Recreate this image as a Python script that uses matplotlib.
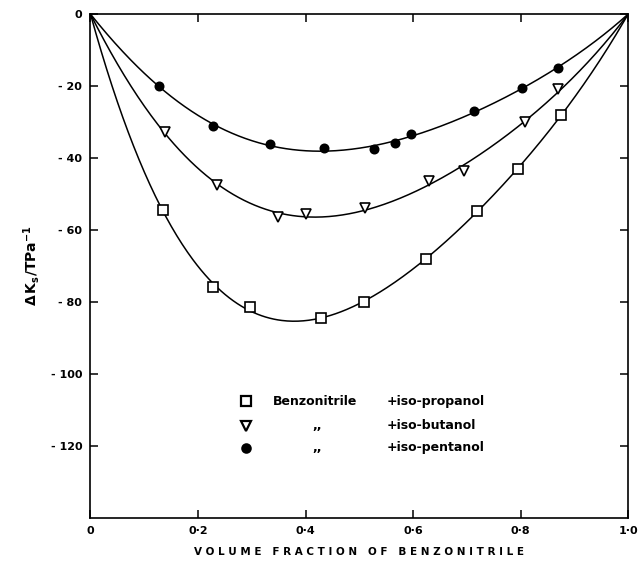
import numpy as np
import matplotlib
matplotlib.use("Agg")
import matplotlib.pyplot as plt

# volume fraction of benzonitrile and excess compressibility (TPa^-1)
x_prop = [0.135, 0.227, 0.296, 0.428, 0.509, 0.624, 0.719, 0.795, 0.875]
y_prop = [-54.3, -75.9, -81.5, -84.3, -80.1, -67.9, -54.7, -43.1, -28.1]

x_but = [0.139, 0.236, 0.348, 0.401, 0.511, 0.630, 0.695, 0.808, 0.870]
y_but = [-32.7, -47.5, -56.3, -55.6, -54.0, -46.3, -43.5, -29.9, -20.9]

x_pent = [0.128, 0.227, 0.334, 0.435, 0.528, 0.567, 0.596, 0.713, 0.802, 0.869]
y_pent = [-20.0, -31.0, -36.2, -37.3, -37.6, -35.7, -33.4, -26.9, -20.6, -15.1]

x_ticks = [0, 0.2, 0.4, 0.6, 0.8, 1.0]
x_labels = ["0", "0\u00b72", "0\u00b74", "0\u00b76", "0\u00b78", "1\u00b70"]
y_ticks = [0, -20, -40, -60, -80, -100, -120]
y_labels = ["0", "- 20", "- 40", "- 60", "- 80", "- 100", "- 120"]


def rk_fit(x, y, order=3):
    # Redlich-Kister type fit: y = x(1-x) * sum A_k (2x-1)^k
    x = np.asarray(x)
    y = np.asarray(y)
    base = x * (1 - x)
    M = np.column_stack([base * (2 * x - 1) ** k for k in range(order + 1)])
    coef, *_ = np.linalg.lstsq(M, y, rcond=None)
    xs = np.linspace(0, 1, 400)
    bs = xs * (1 - xs)
    ys = sum(c * bs * (2 * xs - 1) ** k for k, c in enumerate(coef))
    return xs, ys


fig = plt.figure(figsize=(6.4, 5.7), dpi=100)
ax = fig.add_axes([0.1414, 0.0912, 0.840, 0.884])

for xd, yd, mk, fill, ms in [(x_prop, y_prop, "s", "white", 6.5),
                             (x_but, y_but, "v", "white", 7),
                             (x_pent, y_pent, "o", "black", 6)]:
    xs, ys = rk_fit(xd, yd)
    ax.plot(xs, ys, color="black", lw=1.1, zorder=2)
    ax.plot(xd, yd, linestyle="none", marker=mk, mfc=fill, mec="black",
            mew=1.2, ms=ms, zorder=3)

ax.set_xlim(0, 1)
ax.set_ylim(-140, 0)
ax.set_xticks(x_ticks)
ax.set_xticklabels(x_labels)
ax.set_yticks(y_ticks)
ax.set_yticklabels(y_labels)
ax.tick_params(direction="in", length=6, width=1.1, top=True, right=True,
               labelsize=8, pad=6)
for lab in ax.get_xticklabels() + ax.get_yticklabels():
    lab.set_fontweight("bold")
for sp in ax.spines.values():
    sp.set_linewidth(1.2)

ax.set_xlabel("V O L U M E   F R A C T I O N   O F   B E N Z O N I T R I L E",
              fontsize=7.5, fontweight="bold", labelpad=8)
ax.set_ylabel(r"$\mathbf{\Delta\,K_s/TPa^{-1}}$", fontsize=10, labelpad=6)

# legend drawn by hand, as in the original
leg_rows = [("s", "white", 6.5, "Benzonitrile", "+iso-propanol"),
            ("v", "white", 7, ",,", "+iso-butanol"),
            ("o", "black", 6, ",,", "+iso-pentanol")]
leg_y = [0.232, 0.183, 0.139]
for (mk, fill, ms, name, extra), yy in zip(leg_rows, leg_y):
    ax.plot([0.289], [yy], transform=ax.transAxes, linestyle="none", marker=mk,
            mfc=fill, mec="black", mew=1.6, ms=ms, clip_on=False)
    if name == "Benzonitrile":
        ax.text(0.340, yy, name, transform=ax.transAxes, fontsize=9,
                fontweight="bold", va="center", ha="left")
    else:
        ax.text(0.421, yy, name, transform=ax.transAxes, fontsize=9,
                fontweight="bold", va="center", ha="center")
    ax.text(0.551, yy, extra, transform=ax.transAxes, fontsize=9,
            fontweight="bold", va="center", ha="left")

fig.savefig("out.png", dpi=100)
